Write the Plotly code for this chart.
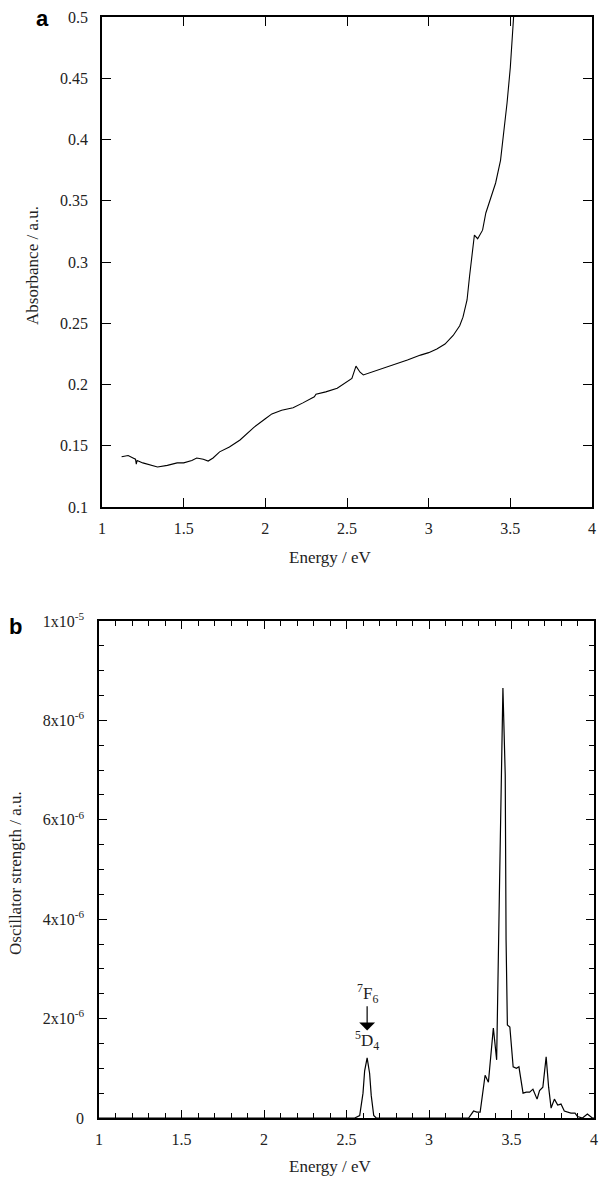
import plotly.graph_objects as go

# Panel a: absorbance spectrum
energy_a = [1.12, 1.16, 1.19, 1.205, 1.21, 1.215, 1.25, 1.30, 1.34, 1.40, 1.46, 1.50, 1.55, 1.58,
            1.62, 1.65, 1.68, 1.72, 1.78, 1.845, 1.93, 2.00, 2.04, 2.10, 2.17, 2.23, 2.29, 2.30,
            2.31, 2.37, 2.44, 2.50, 2.53, 2.555, 2.58, 2.60, 2.65, 2.69, 2.75, 2.80, 2.87, 2.95,
            3.00, 3.05, 3.10, 3.15, 3.19, 3.21, 3.235, 3.25, 3.27, 3.28, 3.30, 3.33, 3.35, 3.38,
            3.41, 3.44, 3.46, 3.48, 3.50, 3.52]
absorb_a = [0.141, 0.142, 0.140, 0.139, 0.135, 0.138, 0.136, 0.134, 0.1327, 0.134, 0.136, 0.136,
            0.138, 0.140, 0.139, 0.1375, 0.140, 0.145, 0.149, 0.1547, 0.165, 0.172, 0.176, 0.179,
            0.181, 0.185, 0.189, 0.190, 0.192, 0.194, 0.197, 0.202, 0.205, 0.215, 0.210, 0.2078,
            0.210, 0.212, 0.215, 0.217, 0.220, 0.224, 0.226, 0.229, 0.233, 0.240, 0.248, 0.255,
            0.269, 0.288, 0.310, 0.322, 0.319, 0.326, 0.340, 0.352, 0.3645, 0.383, 0.405, 0.430,
            0.459, 0.500]

# Panel b: calculated oscillator strengths (units of 1e-6)
energy_b = [1.0, 2.55, 2.58, 2.60, 2.61, 2.625, 2.64, 2.65, 2.665, 2.68, 3.24, 3.26, 3.27, 3.29,
            3.31, 3.34, 3.36, 3.39, 3.41, 3.428, 3.448, 3.462, 3.467, 3.475, 3.49, 3.51, 3.53,
            3.545, 3.57, 3.59, 3.61, 3.63, 3.655, 3.67, 3.69, 3.71, 3.725, 3.74, 3.76, 3.78,
            3.80, 3.82, 3.835, 3.86, 3.885, 3.90, 3.93, 3.96, 3.99, 4.0]
osc_b_e6 = [0, 0, 0.05, 0.5, 0.95, 1.21, 0.9, 0.45, 0.05, 0, 0, 0.1, 0.14, 0.12, 0.12, 0.86,
            0.72, 1.81, 1.17, 4.8, 8.65, 6.9, 3.6, 1.87, 1.83, 1.03, 1.0, 1.03, 0.5, 0.52, 0.52,
            0.58, 0.38, 0.55, 0.62, 1.23, 0.62, 0.2, 0.38, 0.26, 0.28, 0.14, 0.12, 0.1, 0.1,
            0.03, 0.0, 0.08, 0.0, 0.0]
osc_b = [v * 1e-6 for v in osc_b_e6]

x_ticks = [1, 1.5, 2, 2.5, 3, 3.5, 4]
x_ticktext = ["1", "1.5", "2", "2.5", "3", "3.5", "4"]
ya_ticks = [0.1, 0.15, 0.2, 0.25, 0.3, 0.35, 0.4, 0.45, 0.5]
ya_ticktext = ["0.1", "0.15", "0.2", "0.25", "0.3", "0.35", "0.4", "0.45", "0.5"]
yb_ticks = [0, 2e-6, 4e-6, 6e-6, 8e-6, 1e-5]
yb_ticktext = ["0", "2x10<sup>-6</sup>", "4x10<sup>-6</sup>", "6x10<sup>-6</sup>",
               "8x10<sup>-6</sup>", "1x10<sup>-5</sup>"]

W, H = 601, 1178
SERIF = "Liberation Serif"
TXT = "#222"

fig = go.Figure()
fig.add_trace(go.Scatter(x=energy_a, y=absorb_a, mode="lines",
                         line=dict(color="black", width=1.1), xaxis="x", yaxis="y",
                         showlegend=False))
fig.add_trace(go.Scatter(x=energy_b, y=osc_b, mode="lines",
                         line=dict(color="black", width=1.2), xaxis="x2", yaxis="y2",
                         showlegend=False))

axis_common = dict(showline=True, linecolor="black", linewidth=1.5, mirror="ticks",
                   ticks="inside", tickcolor="black", tickwidth=1.3, showgrid=False,
                   zeroline=False, automargin=False,
                   tickfont=dict(family=SERIF, size=16, color=TXT))

fig.update_layout(
    width=W, height=H, margin=dict(l=0, r=0, t=0, b=0),
    paper_bgcolor="white", plot_bgcolor="white",
    font=dict(family=SERIF, size=16, color=TXT),
    xaxis=dict(domain=[102 / W, 592 / W], anchor="y", range=[1, 4],
               tickvals=x_ticks, ticktext=x_ticktext, ticklen=9, ticklabelstandoff=6,
               **axis_common),
    yaxis=dict(domain=[1 - 507 / H, 1 - 17 / H], anchor="x", range=[0.1, 0.5],
               tickvals=ya_ticks, ticktext=ya_ticktext, ticklen=9, ticklabelstandoff=9,
               **axis_common),
    xaxis2=dict(domain=[99 / W, 594 / W], anchor="y2", range=[1, 4],
                tickvals=x_ticks, ticktext=x_ticktext, ticklen=8, ticklabelstandoff=6,
                minor=dict(dtick=0.1, ticks="inside", ticklen=5, tickcolor="black", tickwidth=1.3),
                **axis_common),
    yaxis2=dict(domain=[1 - 1118 / H, 1 - 621 / H], anchor="x2", range=[0, 1e-5],
                tickvals=yb_ticks, ticktext=yb_ticktext, ticklen=8, ticklabelstandoff=10,
                minor=dict(dtick=0.5e-6, ticks="inside", ticklen=5, tickcolor="black", tickwidth=1.3),
                **axis_common),
)

# axis titles
fig.add_annotation(text="Energy / eV", x=330 / W, y=1 - 558 / H, xref="paper", yref="paper",
                   showarrow=False, xanchor="center", yanchor="middle",
                   font=dict(family=SERIF, size=17, color=TXT))
fig.add_annotation(text="Energy / eV", x=330 / W, y=1 - 1166 / H, xref="paper", yref="paper",
                   showarrow=False, xanchor="center", yanchor="middle",
                   font=dict(family=SERIF, size=17, color=TXT))
fig.add_annotation(text="Absorbance / a.u.", x=32 / W, y=1 - 266 / H, xref="paper", yref="paper",
                   showarrow=False, xanchor="center", yanchor="middle", textangle=-90,
                   font=dict(family=SERIF, size=17, color=TXT))
fig.add_annotation(text="Oscillator strength / a.u.", x=15 / W, y=1 - 873 / H, xref="paper",
                   yref="paper", showarrow=False, xanchor="center", yanchor="middle",
                   textangle=-90, font=dict(family=SERIF, size=17, color=TXT))

# panel letters
fig.add_annotation(text="<b>a</b>", x=34 / W, y=1 - 18 / H, xref="paper", yref="paper",
                   showarrow=False, xanchor="left", yanchor="middle",
                   font=dict(family="Liberation Sans", size=22, color="black"))
fig.add_annotation(text="<b>b</b>", x=7 / W, y=1 - 626 / H, xref="paper", yref="paper",
                   showarrow=False, xanchor="left", yanchor="middle",
                   font=dict(family="Liberation Sans", size=22, color="black"))

# transition label
fig.add_annotation(text="<sup>7</sup>F<sub>6</sub>", x=2.625, y=2.5e-6, xref="x2", yref="y2",
                   showarrow=False, yanchor="middle",
                   font=dict(family=SERIF, size=17, color=TXT))
fig.add_annotation(text="", x=2.625, y=1.76e-6, ax=2.625, ay=2.28e-6,
                   xref="x2", yref="y2", axref="x2", ayref="y2",
                   showarrow=True, arrowhead=1, arrowsize=2.2, arrowwidth=1.2, arrowcolor="black")
fig.add_annotation(text="<sup>5</sup>D<sub>4</sub>", x=2.625, y=1.55e-6, xref="x2", yref="y2",
                   showarrow=False, yanchor="middle",
                   font=dict(family=SERIF, size=17, color=TXT))

fig.write_html("out.html")
